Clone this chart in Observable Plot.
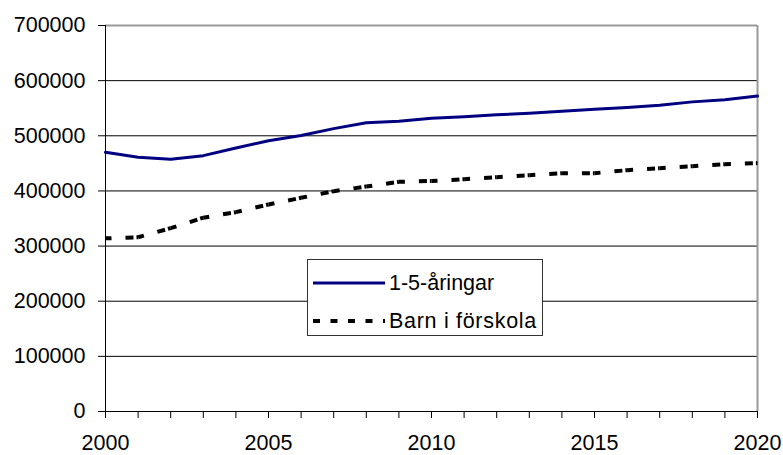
<!DOCTYPE html>
<html>
<head>
<meta charset="utf-8">
<script src="https://cdn.jsdelivr.net/npm/d3@7"></script>
<script src="https://cdn.jsdelivr.net/npm/@observablehq/plot@0.6"></script>
<style>
  html, body { margin: 0; padding: 0; background: #fff; }
  #wrap { position: relative; width: 783px; height: 455px; font-family: "Liberation Sans", Arial, sans-serif; }
  #legend {
    position: absolute; left: 307px; top: 259px; width: 236px; height: 77px;
    box-sizing: border-box; border: 1px solid #333; background: #fff;
    font-size: 21.5px; color: #000;
  }
  .row { position: absolute; left: 5px; display: flex; align-items: center; height: 26px; white-space: nowrap; }
  .row svg { display: block; margin-right: 4px; }
</style>
</head>
<body>
<div id="wrap"></div>
<script>
const years = d3.range(2000, 2021);
const barn1to5 = [470000, 461000, 457500, 464000, 478000, 491000, 500500, 513000, 523500, 526500, 532000,
                  534500, 538000, 541000, 544500, 548000, 551500, 555500, 561500, 565500, 572000];
const forskola = [314000, 316000, 332500, 351500, 361500, 375500, 387500, 399500, 408000, 416500, 418000,
                  421300, 425000, 428600, 432200, 432200, 437600, 441300, 444900, 448500, 450500];
const yTicks = [0, 100000, 200000, 300000, 400000, 500000, 600000, 700000];
const seriesNames = ["1-5-åringar", "Barn i förskola"];

const solid = years.map((y, i) => ({year: y, value: barn1to5[i]}));
const segs = years.slice(0, -1).map((y, i) => ({x1: y, y1: forskola[i], x2: years[i + 1], y2: forskola[i + 1]}));

const chart = Plot.plot({
  width: 783, height: 455,
  marginLeft: 105, marginRight: 26, marginTop: 25, marginBottom: 44,
  x: {domain: [2000, 2020]},
  y: {domain: [0, 700000]},
  style: {fontFamily: "'Liberation Sans', Arial, sans-serif", fontSize: "21.5px", color: "#000", background: "#fff", overflow: "visible"},
  marks: [
    Plot.ruleY(yTicks.filter(v => v > 0 && v < 700000), {stroke: "#000", strokeWidth: 1}),
    Plot.ruleY([700000], {stroke: "#999", strokeWidth: 2}),
    Plot.ruleX([2020], {stroke: "#999", strokeWidth: 2}),
    Plot.axisY({ticks: yTicks, tickSize: 7, tickPadding: 13, tickFormat: d => String(d), label: null}),
    Plot.axisX({ticks: years, tickSize: 7, tickPadding: 16, tickFormat: d => d % 5 === 0 ? String(d) : "", label: null}),
    Plot.ruleX([2000], {stroke: "#000"}),
    Plot.ruleY([0], {stroke: "#000"}),
    Plot.link(segs, {x1: "x1", y1: "y1", x2: "x2", y2: "y2", stroke: "#000", strokeWidth: 4,
      strokeDasharray: "8,3,8,14", strokeDashoffset: 13, strokeLinecap: "butt"}),
    Plot.line(solid, {x: "year", y: "value", stroke: "#000080", strokeWidth: 3, strokeLinejoin: "round"})
  ]
});
const wrap = document.getElementById("wrap");
wrap.appendChild(chart);

const legend = document.createElement("div");
legend.id = "legend";
legend.innerHTML = `
  <div class="row" style="top:10px">
    <svg width="72" height="6"><line x1="0" y1="3" x2="72" y2="3" stroke="#000080" stroke-width="3"/></svg>
    <span>${seriesNames[0]}</span>
  </div>
  <div class="row" style="top:48px">
    <svg width="72" height="6"><line x1="0" y1="3" x2="72" y2="3" stroke="#000" stroke-width="4" stroke-dasharray="7,10.5"/></svg>
    <span style="letter-spacing:0.7px">${seriesNames[1]}</span>
  </div>`;
wrap.appendChild(legend);
</script>
</body>
</html>
